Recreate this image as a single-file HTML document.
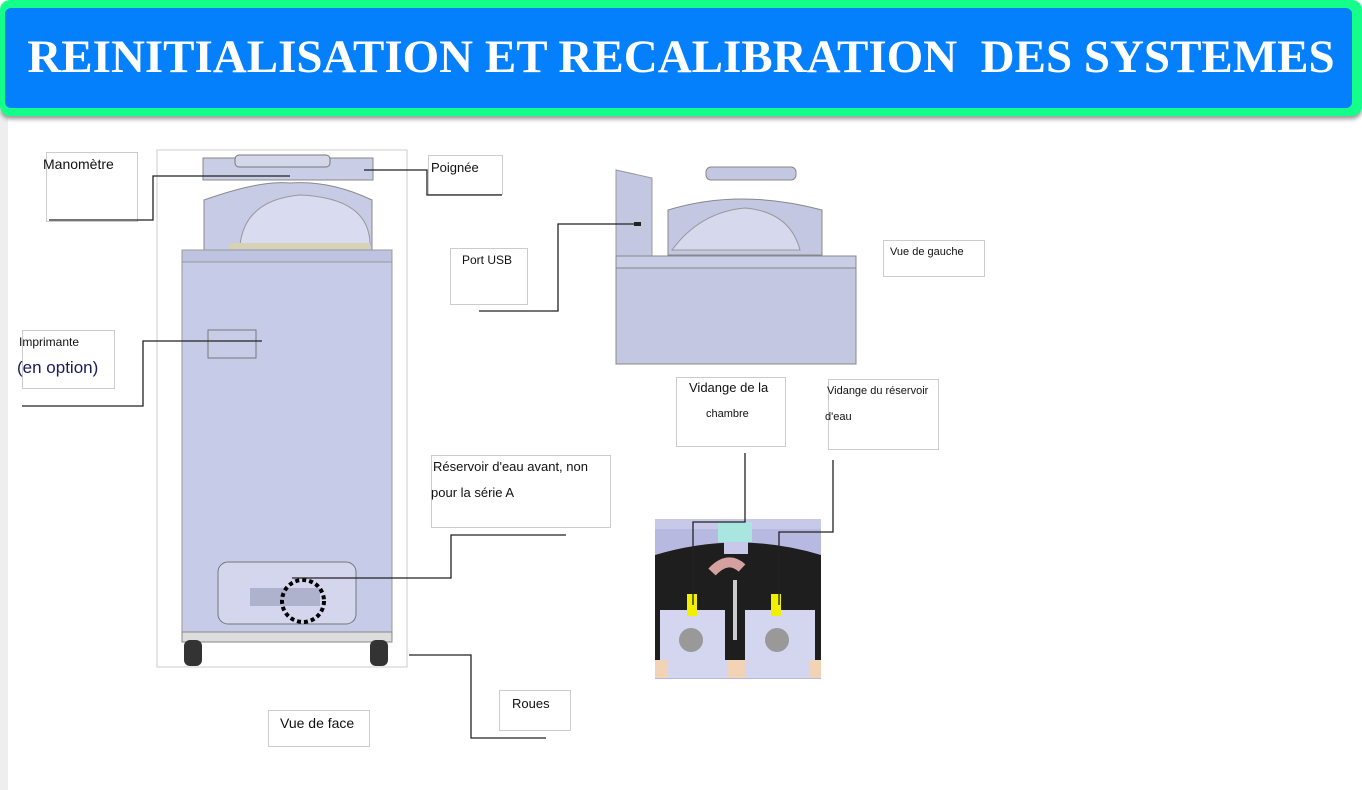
<!DOCTYPE html>
<html><head><meta charset="utf-8"><style>
body{margin:0;width:1362px;height:790px;background:#fff;position:relative;overflow:hidden;font-family:"Liberation Sans",sans-serif}
.t{position:absolute;font-size:13px;color:#111;white-space:nowrap}
.b{position:absolute;border:1px solid #ccc;box-sizing:border-box}
</style></head><body>
<div style="position:absolute;left:0;top:112px;width:8px;height:678px;background:#eee"></div>
<div style="position:absolute;left:0;top:0;width:1362px;height:116px;background:#14ff8a;border-radius:10px;box-shadow:0 3px 4px #999"></div>
<div style="position:absolute;left:5px;top:8px;width:1347px;height:100px;background:#0480fc;border-radius:6px"></div>
<div style="position:absolute;left:0;top:30px;width:1362px;text-align:center;color:#fff;font:bold 47px 'Liberation Serif',serif;white-space:nowrap">REINITIALISATION ET RECALIBRATION&nbsp; DES SYSTEMES</div>

<div class="b" style="left:46px;top:152px;width:92px;height:70px"></div>
<div class="t" style="left:43px;top:156px;font-size:14px">Manomètre</div>
<div class="b" style="left:428px;top:155px;width:75px;height:40px"></div>
<div class="t" style="left:431px;top:160px">Poignée</div>
<div class="b" style="left:450px;top:248px;width:78px;height:57px"></div>
<div class="t" style="left:462px;top:253px;font-size:12px">Port USB</div>
<div class="b" style="left:883px;top:240px;width:102px;height:37px"></div>
<div class="t" style="left:890px;top:246px;font-size:11px">Vue de gauche</div>
<div class="b" style="left:22px;top:330px;width:93px;height:59px"></div>
<div class="t" style="left:19px;top:335px;font-size:12px">Imprimante</div>
<div class="t" style="left:17px;top:358px;font-size:17px;color:#1a1a5a">(en option)</div>
<div class="b" style="left:676px;top:377px;width:110px;height:70px"></div>
<div class="t" style="left:689px;top:380px;font-size:13px">Vidange de la</div>
<div class="t" style="left:706px;top:408px;font-size:11px">chambre</div>
<div class="b" style="left:828px;top:379px;width:111px;height:71px"></div>
<div class="t" style="left:827px;top:385px;font-size:11px">Vidange du réservoir</div>
<div class="t" style="left:825px;top:411px;font-size:11px">d'eau</div>
<div class="b" style="left:431px;top:455px;width:180px;height:73px"></div>
<div class="t" style="left:433px;top:459px">Réservoir d'eau avant, non</div>
<div class="t" style="left:431px;top:485px">pour la série A</div>
<div class="b" style="left:499px;top:690px;width:72px;height:41px"></div>
<div class="t" style="left:512px;top:696px">Roues</div>
<div class="b" style="left:268px;top:710px;width:102px;height:37px"></div>
<div class="t" style="left:280px;top:715px;font-size:14px">Vue de face</div>

<svg width="1362" height="790" style="position:absolute;left:0;top:0">
<rect x="157" y="150" width="250" height="517" fill="none" stroke="#ccc"/>
<rect x="203" y="158" width="170" height="22" fill="#c9cde6" stroke="#888"/>
<rect x="235" y="155" width="95" height="12" rx="4" fill="#d4d7ea" stroke="#777"/>
<path d="M204 250 L204 200 Q260 180 290 183 Q330 180 372 200 L372 250 Z" fill="#c7cbe6" stroke="#888"/>
<path d="M240 245 Q245 200 300 195 Q370 198 370 245 Z" fill="#d9dcf0" stroke="#999"/>
<rect x="230" y="243" width="140" height="6" fill="#d8d2b5"/>
<rect x="182" y="250" width="210" height="388" fill="#c6cbe8" stroke="#999"/>
<rect x="182" y="250" width="210" height="12" fill="#bec3e2" stroke="#999"/>
<rect x="208" y="330" width="48" height="28" fill="#c8cce6" stroke="#777"/>
<rect x="218" y="562" width="138" height="62" rx="10" fill="#d3d6ec" stroke="#777"/>
<rect x="250" y="588" width="70" height="18" fill="#aeb2cc"/>
<ellipse cx="303" cy="601" rx="21" ry="21" fill="none" stroke="#000" stroke-width="4" stroke-dasharray="4 3"/>
<rect x="182" y="632" width="210" height="10" fill="#ddd" stroke="#888"/>
<rect x="184" y="640" width="18" height="26" rx="6" fill="#333"/>
<rect x="370" y="640" width="18" height="26" rx="6" fill="#333"/>
<path d="M616 170 L652 178 L652 258 L616 258 Z" fill="#c3c7e2" stroke="#999"/>
<rect x="634" y="222" width="7" height="4" fill="#222"/>
<rect x="706" y="167" width="90" height="13" rx="5" fill="#c3c7e2" stroke="#888"/>
<path d="M668 255 L668 210 Q740 188 822 210 L822 255 Z" fill="#c3c7e2" stroke="#888"/>
<path d="M672 250 Q700 212 745 208 Q790 212 800 250 Z" fill="#d6d9ee" stroke="#999"/>
<rect x="616" y="256" width="240" height="108" fill="#c3c7e2" stroke="#888"/>
<rect x="616" y="256" width="240" height="12" fill="#c9cde6" stroke="#888"/>
<rect x="655" y="519" width="166" height="160" fill="#b8b9e0"/>
<rect x="655" y="519" width="166" height="10" fill="#c8c8e8"/>
<path d="M655 555 Q738 530 821 555 L821 660 L655 660 Z" fill="#1e1e1e"/>
<rect x="718" y="522" width="34" height="20" fill="#a9e6e0"/>
<rect x="724" y="542" width="24" height="12" fill="#c8c8ea"/>
<path d="M712 572 Q728 555 742 568" stroke="#d4a0a0" stroke-width="10" fill="none"/>
<rect x="660" y="610" width="65" height="55" fill="#d3d6ee"/>
<rect x="745" y="610" width="70" height="55" fill="#d3d6ee"/>
<circle cx="691" cy="640" r="12" fill="#999"/><circle cx="777" cy="640" r="12" fill="#999"/>
<rect x="687" y="594" width="10" height="22" fill="#f0f000"/>
<rect x="771" y="594" width="10" height="22" fill="#f0f000"/>
<rect x="733" y="580" width="4" height="60" fill="#ccc"/>
<rect x="655" y="660" width="166" height="18" fill="#f3d3b6"/>
<rect x="668" y="660" width="60" height="18" fill="#d3d6ee"/><rect x="745" y="660" width="65" height="18" fill="#d3d6ee"/>
<g fill="none" stroke="#222" stroke-width="1.3">
<path d="M49 220 H153 V176 H290"/>
<path d="M364 170 H427 V195 H502"/>
<path d="M479 311 H558 V224 H640"/>
<path d="M22 406 H143 V341 H262"/>
<path d="M292 578 H451 V535 H566"/>
<path d="M409 655 H471 V738 H546"/>
<path d="M745 453 V522 H693 V605"/>
<path d="M833 460 V532 H779 V605"/>
</g>
</svg>
</body></html>
